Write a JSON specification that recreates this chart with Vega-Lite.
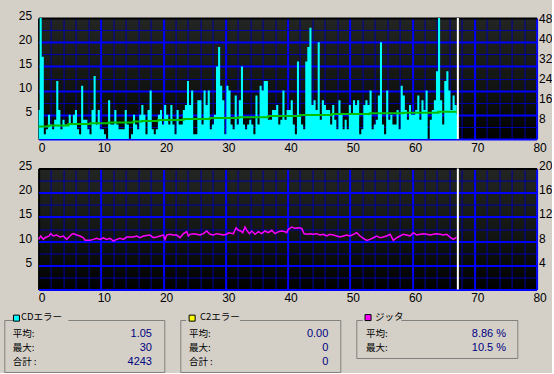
{
 "$schema": "https://vega.github.io/schema/vega-lite/v6.json",
 "background": "#d4d0c8",
 "padding": {"left": 3.3, "top": 9, "right": 0, "bottom": 0},
 "spacing": 7,
 "config": {
  "font": "Liberation Sans",
  "axis": {"labelFont": "Liberation Sans", "labelFontSize": 12, "labelColor": "#000000", "domain": false, "ticks": false, "title": null, "labelOverlap": false, "labelFlush": false}
 },
 "datasets": {
  "c1": [
   {"t":0,"c1":6},{"t":0.33,"c1":25},{"t":0.67,"c1":17},{"t":1,"c1":1},{"t":1.33,"c1":2},{"t":1.67,"c1":5},{"t":2,"c1":3},{"t":2.33,"c1":2},{"t":2.67,"c1":4},{"t":3,"c1":12},
   {"t":3.33,"c1":6},{"t":3.67,"c1":2},{"t":4,"c1":4},{"t":4.33,"c1":3},{"t":4.67,"c1":3},{"t":5,"c1":5},{"t":5.33,"c1":3},{"t":5.67,"c1":5},{"t":6,"c1":6},{"t":6.33,"c1":2},
   {"t":6.67,"c1":1},{"t":7,"c1":11},{"t":7.33,"c1":4},{"t":7.67,"c1":4},{"t":8,"c1":2},{"t":8.33,"c1":1},{"t":8.67,"c1":6},{"t":9,"c1":13},{"t":9.33,"c1":3},{"t":9.67,"c1":6},
   {"t":10,"c1":2},{"t":10.33,"c1":2},{"t":10.67,"c1":1},{"t":11,"c1":0},{"t":11.33,"c1":8},{"t":11.67,"c1":3},{"t":12,"c1":3},{"t":12.33,"c1":6},{"t":12.67,"c1":3},{"t":13,"c1":2},
   {"t":13.33,"c1":2},{"t":13.67,"c1":2},{"t":14,"c1":6},{"t":14.33,"c1":3},{"t":14.67,"c1":0},{"t":15,"c1":1},{"t":15.33,"c1":5},{"t":15.67,"c1":3},{"t":16,"c1":2},{"t":16.33,"c1":5},
   {"t":16.67,"c1":7},{"t":17,"c1":5},{"t":17.33,"c1":1},{"t":17.67,"c1":6},{"t":18,"c1":10},{"t":18.33,"c1":2},{"t":18.67,"c1":1},{"t":19,"c1":2},{"t":19.33,"c1":5},{"t":19.67,"c1":6},
   {"t":20,"c1":3},{"t":20.33,"c1":7},{"t":20.67,"c1":5},{"t":21,"c1":3},{"t":21.33,"c1":7},{"t":21.67,"c1":3},{"t":22,"c1":1},{"t":22.33,"c1":6},{"t":22.67,"c1":3},{"t":23,"c1":3},
   {"t":23.33,"c1":6},{"t":23.67,"c1":7},{"t":24,"c1":12},{"t":24.33,"c1":7},{"t":24.67,"c1":10},{"t":25,"c1":1},{"t":25.33,"c1":1},{"t":25.67,"c1":8},{"t":26,"c1":8},{"t":26.33,"c1":3},
   {"t":26.67,"c1":10},{"t":27,"c1":7},{"t":27.33,"c1":10},{"t":27.67,"c1":2},{"t":28,"c1":3},{"t":28.33,"c1":5},{"t":28.67,"c1":15},{"t":29,"c1":19},{"t":29.33,"c1":11},{"t":29.67,"c1":8},
   {"t":30,"c1":1},{"t":30.33,"c1":11},{"t":30.67,"c1":10},{"t":31,"c1":3},{"t":31.33,"c1":2},{"t":31.67,"c1":9},{"t":32,"c1":3},{"t":32.33,"c1":8},{"t":32.67,"c1":15},{"t":33,"c1":3},
   {"t":33.33,"c1":2},{"t":33.67,"c1":3},{"t":34,"c1":4},{"t":34.33,"c1":3},{"t":34.67,"c1":1},{"t":35,"c1":9},{"t":35.33,"c1":3},{"t":35.67,"c1":11},{"t":36,"c1":10},{"t":36.33,"c1":12},
   {"t":36.67,"c1":12},{"t":37,"c1":4},{"t":37.33,"c1":4},{"t":37.67,"c1":6},{"t":38,"c1":6},{"t":38.33,"c1":7},{"t":38.67,"c1":3},{"t":39,"c1":4},{"t":39.33,"c1":10},{"t":39.67,"c1":4},
   {"t":40,"c1":6},{"t":40.33,"c1":6},{"t":40.67,"c1":8},{"t":41,"c1":3},{"t":41.33,"c1":1},{"t":41.67,"c1":16},{"t":42,"c1":5},{"t":42.33,"c1":3},{"t":42.67,"c1":2},{"t":43,"c1":16},
   {"t":43.33,"c1":19},{"t":43.67,"c1":23},{"t":44,"c1":7},{"t":44.33,"c1":8},{"t":44.67,"c1":6},{"t":45,"c1":20},{"t":45.33,"c1":4},{"t":45.67,"c1":8},{"t":46,"c1":7},{"t":46.33,"c1":6},
   {"t":46.67,"c1":6},{"t":47,"c1":3},{"t":47.33,"c1":7},{"t":47.67,"c1":4},{"t":48,"c1":2},{"t":48.33,"c1":8},{"t":48.67,"c1":5},{"t":49,"c1":2},{"t":49.33,"c1":4},{"t":49.67,"c1":2},
   {"t":50,"c1":7},{"t":50.33,"c1":5},{"t":50.67,"c1":8},{"t":51,"c1":7},{"t":51.33,"c1":8},{"t":51.67,"c1":1},{"t":52,"c1":2},{"t":52.33,"c1":7},{"t":52.67,"c1":8},{"t":53,"c1":7},
   {"t":53.33,"c1":10},{"t":53.67,"c1":2},{"t":54,"c1":3},{"t":54.33,"c1":4},{"t":54.67,"c1":9},{"t":55,"c1":20},{"t":55.33,"c1":3},{"t":55.67,"c1":1},{"t":56,"c1":10},{"t":56.33,"c1":4},
   {"t":56.67,"c1":5},{"t":57,"c1":3},{"t":57.33,"c1":3},{"t":57.67,"c1":6},{"t":58,"c1":2},{"t":58.33,"c1":11},{"t":58.67,"c1":9},{"t":59,"c1":6},{"t":59.33,"c1":4},{"t":59.67,"c1":7},
   {"t":60,"c1":5},{"t":60.33,"c1":5},{"t":60.67,"c1":6},{"t":61,"c1":9},{"t":61.33,"c1":4},{"t":61.67,"c1":8},{"t":62,"c1":6},{"t":62.33,"c1":10},{"t":62.67,"c1":0},{"t":63,"c1":4},
   {"t":63.33,"c1":6},{"t":63.67,"c1":8},{"t":64,"c1":14},{"t":64.33,"c1":25},{"t":64.67,"c1":8},{"t":65,"c1":3},{"t":65.33,"c1":12},{"t":65.67,"c1":14},{"t":66,"c1":10},{"t":66.33,"c1":6},
   {"t":66.67,"c1":9},{"t":67,"c1":7},{"t":67.33,"c1":5}
  ],
  "speed": [
   {"t":0,"v":5.0},{"t":1.6,"v":5.4},{"t":4.8,"v":5.95},{"t":8.3,"v":6.25},{"t":11.2,"v":6.55},{"t":15.2,"v":6.9},{"t":16.6,"v":7.1},{"t":19.2,"v":7.5},{"t":23.3,"v":7.9},{"t":27.5,"v":8.35},
   {"t":32.1,"v":8.65},{"t":36.9,"v":9.1},{"t":42,"v":9.5},{"t":47.1,"v":9.9},{"t":53.2,"v":10.2},{"t":58.6,"v":10.45},{"t":64.2,"v":10.85},{"t":67.3,"v":10.85}
  ],
  "jitter": [
   {"t":0,"j":8.29},{"t":0.34,"j":8.84},{"t":0.77,"j":8.29},{"t":1.03,"j":8.56},{"t":1.68,"j":8.84},{"t":1.94,"j":9.23},{"t":2.37,"j":8.84},{"t":2.91,"j":9.0},{"t":3.44,"j":8.67},{"t":3.98,"j":8.84},
   {"t":4.51,"j":8.29},{"t":5.05,"j":8.84},{"t":5.32,"j":9.12},{"t":5.58,"j":9.23},{"t":6.12,"j":9.0},{"t":6.66,"j":8.84},{"t":7.19,"j":8.56},{"t":7.46,"j":8.12},{"t":8.26,"j":8.12},{"t":8.8,"j":8.29},
   {"t":9.33,"j":8.45},{"t":9.87,"j":8.29},{"t":10.4,"j":8.56},{"t":10.94,"j":8.29},{"t":11.48,"j":8.45},{"t":12.01,"j":8.01},{"t":12.55,"j":8.29},{"t":13.08,"j":8.45},{"t":13.62,"j":8.29},{"t":14.15,"j":8.67},
   {"t":15.22,"j":8.67},{"t":15.76,"j":8.84},{"t":16.3,"j":8.56},{"t":16.83,"j":8.84},{"t":17.9,"j":9.0},{"t":18.44,"j":8.56},{"t":18.97,"j":8.67},{"t":19.51,"j":8.84},{"t":20.04,"j":9.0},{"t":20.31,"j":8.29},
   {"t":20.58,"j":9.0},{"t":21.11,"j":9.12},{"t":21.65,"j":9.0},{"t":22.18,"j":9.0},{"t":22.72,"j":8.56},{"t":23.26,"j":9.23},{"t":23.79,"j":9.56},{"t":24.06,"j":8.84},{"t":24.33,"j":9.12},{"t":24.86,"j":9.23},
   {"t":25.4,"j":9.12},{"t":25.93,"j":9.0},{"t":26.47,"j":9.23},{"t":27.0,"j":9.67},{"t":27.54,"j":9.12},{"t":28.07,"j":9.0},{"t":28.61,"j":9.23},{"t":29.15,"j":9.12},{"t":29.68,"j":9.0},{"t":30.22,"j":9.12},
   {"t":30.49,"j":9.39},{"t":31.29,"j":9.23},{"t":31.72,"j":10.2},{"t":32.09,"j":9.78},{"t":32.47,"j":9.67},{"t":32.79,"j":9.39},{"t":33.16,"j":10.33},{"t":33.43,"j":9.8},{"t":33.86,"j":9.23},{"t":34.23,"j":9.67},
   {"t":34.77,"j":9.12},{"t":35.3,"j":9.56},{"t":35.84,"j":9.23},{"t":36.38,"j":9.67},{"t":36.91,"j":9.39},{"t":37.45,"j":9.78},{"t":37.98,"j":9.23},{"t":38.52,"j":9.56},{"t":39.05,"j":9.67},{"t":39.59,"j":9.56},
   {"t":39.86,"j":9.39},{"t":40.12,"j":9.94},{"t":40.66,"j":10.33},{"t":41.19,"j":10.11},{"t":41.73,"j":10.2},{"t":42.27,"j":10.11},{"t":42.64,"j":9.23},{"t":43.07,"j":9.12},{"t":43.6,"j":9.23},{"t":44.14,"j":9.12},
   {"t":44.67,"j":9.23},{"t":45.21,"j":9.0},{"t":45.75,"j":9.12},{"t":46.28,"j":8.84},{"t":46.82,"j":9.12},{"t":47.35,"j":9.0},{"t":47.89,"j":8.84},{"t":48.42,"j":8.67},{"t":48.96,"j":8.84},{"t":49.49,"j":9.0},
   {"t":50.03,"j":8.84},{"t":50.57,"j":9.12},{"t":51.1,"j":9.39},{"t":51.64,"j":8.84},{"t":52.17,"j":8.45},{"t":52.71,"j":8.12},{"t":53.24,"j":8.29},{"t":53.78,"j":8.56},{"t":54.31,"j":8.84},{"t":54.85,"j":8.56},
   {"t":55.38,"j":8.67},{"t":55.92,"j":8.84},{"t":56.46,"j":9.12},{"t":56.99,"j":8.12},{"t":57.53,"j":8.56},{"t":58.06,"j":8.84},{"t":58.6,"j":9.12},{"t":59.13,"j":9.0},{"t":59.67,"j":8.84},{"t":60.2,"j":9.39},
   {"t":60.74,"j":9.0},{"t":61.28,"j":9.12},{"t":61.81,"j":9.23},{"t":62.35,"j":9.12},{"t":62.88,"j":9.0},{"t":63.42,"j":9.12},{"t":63.95,"j":9.23},{"t":64.49,"j":9.12},{"t":65.02,"j":9.0},{"t":65.56,"j":9.12},
   {"t":66.09,"j":8.67},{"t":66.63,"j":8.29},{"t":67.17,"j":8.67}
  ],
  "end": [{"t":67.35}]
 },
 "vconcat": [
  {
   "spacing": 12.3,
   "hconcat": [
    {
     "width": 1, "height": 1,
     "view": {"stroke": null, "fill": "#d4d0c8"},
     "data": {"values": []},
     "mark": "point"
    },
    {
     "spacing": 6.5,
     "vconcat": [
      {
       "width": 498, "height": 121,
       "view": {"stroke": null, "fill": {"gradient": "linear", "x1": 0, "y1": 0, "x2": 0, "y2": 1, "stops": [{"offset": 0, "color": "#232522"}, {"offset": 0.5, "color": "#151715"}, {"offset": 0.75, "color": "#0a0c0a"}, {"offset": 1, "color": "#000000"}]}},
       "encoding": {
        "x": {"field": "t", "type": "quantitative", "scale": {"domain": [0, 80], "nice": false, "zero": false},
         "axis": {"values": [0,2,4,6,8,10,12,14,16,18,20,22,24,26,28,30,32,34,36,38,40,42,44,46,48,50,52,54,56,58,60,62,64,66,68,70,72,74,76,78,80], "grid": true, "labelOverlap": false,
          "gridColor": {"condition": [{"test": "datum.value === 0", "value": "#000000"}, {"test": "datum.value % 10 === 0", "value": "#0000ff"}], "value": "#0000a8"},
          "gridWidth": {"condition": {"test": "datum.value % 10 === 0", "value": 2}, "value": 1},
          "labelExpr": "datum.value % 10 === 0 ? datum.label : ''", "labelOffset": 3, "labelPadding": 3}}
       },
       "layer": [
        {
         "data": {"name": "c1"},
         "mark": {"type": "area", "interpolate": "step", "color": "#00ffff"},
         "encoding": {
          "y": {"field": "c1", "type": "quantitative", "scale": {"domain": [0, 25], "nice": false},
           "axis": {"orient": "left", "values": [0,2.5,5,7.5,10,12.5,15,17.5,20,22.5,25], "grid": true, "labelOverlap": false,
            "gridColor": {"condition": [{"test": "datum.value === 25", "value": "#000000"}, {"test": "datum.value % 5 === 0", "value": "#0000ff"}], "value": "#0000a8"},
            "gridWidth": {"condition": {"test": "datum.value % 5 === 0", "value": 2}, "value": 1},
            "labelExpr": "datum.value % 5 === 0 && datum.value > 0 ? datum.label : ''", "labelOffset": -3, "labelPadding": 7}}
         }
        },
        {
         "data": {"name": "speed"},
         "mark": {"type": "line", "interpolate": "step-after", "color": "#00c000", "strokeWidth": 2},
         "encoding": {
          "y": {"field": "v", "type": "quantitative", "scale": {"domain": [0, 48], "nice": false},
           "axis": {"orient": "right", "values": [8,16,24,32,40,48], "grid": false, "labelPadding": 2, "labelOverlap": false}}
         }
        },
        {
         "data": {"name": "end"},
         "mark": {"type": "rule", "color": "#ffffff", "strokeWidth": 2},
         "encoding": {}
        }
       ],
       "resolve": {"scale": {"y": "independent"}}
      },
      {
       "width": 498, "height": 121,
       "view": {"stroke": null, "fill": {"gradient": "linear", "x1": 0, "y1": 0, "x2": 0, "y2": 1, "stops": [{"offset": 0, "color": "#232522"}, {"offset": 0.5, "color": "#151715"}, {"offset": 0.75, "color": "#0a0c0a"}, {"offset": 1, "color": "#000000"}]}},
       "encoding": {
        "x": {"field": "t", "type": "quantitative", "scale": {"domain": [0, 80], "nice": false, "zero": false},
         "axis": {"values": [0,2,4,6,8,10,12,14,16,18,20,22,24,26,28,30,32,34,36,38,40,42,44,46,48,50,52,54,56,58,60,62,64,66,68,70,72,74,76,78,80], "grid": true, "labelOverlap": false,
          "gridColor": {"condition": [{"test": "datum.value === 0", "value": "#000000"}, {"test": "datum.value % 10 === 0", "value": "#0000ff"}], "value": "#0000a8"},
          "gridWidth": {"condition": {"test": "datum.value % 10 === 0", "value": 2}, "value": 1},
          "labelExpr": "datum.value % 10 === 0 ? datum.label : ''", "labelOffset": 3, "labelPadding": 3}}
       },
       "layer": [
        {
         "data": {"name": "end"},
         "mark": {"type": "rule", "color": "#ffffff", "strokeWidth": 2},
         "encoding": {
          "y": {"datum": 0, "type": "quantitative", "scale": {"domain": [0, 25], "nice": false},
           "axis": {"orient": "left", "values": [0,2.5,5,7.5,10,12.5,15,17.5,20,22.5,25], "grid": true, "labelOverlap": false,
            "gridColor": {"condition": [{"test": "datum.value === 25", "value": "#000000"}, {"test": "datum.value % 5 === 0", "value": "#0000ff"}], "value": "#0000a8"},
            "gridWidth": {"condition": {"test": "datum.value % 5 === 0", "value": 2}, "value": 1},
            "labelExpr": "datum.value % 5 === 0 && datum.value > 0 ? datum.label : ''", "labelOffset": -3, "labelPadding": 7}},
          "y2": {"datum": 25}
         }
        },
        {
         "data": {"name": "jitter"},
         "mark": {"type": "line", "color": "#ff00ff", "strokeWidth": 1.5},
         "encoding": {
          "y": {"field": "j", "type": "quantitative", "scale": {"domain": [0, 20], "nice": false},
           "axis": {"orient": "right", "values": [4,8,12,16,20], "grid": false, "labelPadding": 2, "labelOffset": -3, "labelOverlap": false}}
         }
        }
       ],
       "resolve": {"scale": {"y": "independent"}}
      }
     ]
    }
   ]
  },
  {
   "spacing": 14,
   "hconcat": [
    {
     "width": 160, "height": 52,
     "view": {"stroke": "#808080", "fill": null},
     "data": {"values": [
      {"row": 0, "label": "CDエラー", "value": ""},
      {"row": 1, "label": "平均:", "value": "1.05"},
      {"row": 2, "label": "最大:", "value": "30"},
      {"row": 3, "label": "合計 :", "value": "4243"}
     ]},
     "encoding": {
      "y": {"field": "row", "type": "quantitative", "scale": {"domain": [-0.01, 3.74], "reverse": true, "nice": false, "zero": false}, "axis": null}
     },
     "layer": [
      {"transform": [{"filter": "datum.row === 0"}], "mark": {"type": "rule", "color": "#d4d0c8", "strokeWidth": 4},
       "encoding": {"x": {"datum": 0.058, "type": "quantitative", "scale": {"domain": [0, 1], "nice": false}, "axis": null}, "x2": {"datum": 0.4}}},
      {"transform": [{"filter": "datum.row === 0"}], "mark": {"type": "point", "shape": "square", "size": 36, "filled": true, "fill": "#00ffff", "stroke": "#000000", "strokeWidth": 1, "opacity": 1, "yOffset": -2},
       "encoding": {"x": {"datum": 0.076, "type": "quantitative"}}},
      {"transform": [{"filter": "datum.row === 0"}], "mark": {"type": "text", "align": "left", "baseline": "middle", "dy": -3, "font": "Noto Sans CJK JP", "fontSize": 9.5, "color": "#000000"},
       "encoding": {"x": {"datum": 0.104, "type": "quantitative"}, "text": {"field": "label"}}},
      {"transform": [{"filter": "datum.row > 0"}], "mark": {"type": "text", "align": "left", "baseline": "middle", "font": "Noto Sans CJK JP", "fontSize": 9.5, "color": "#000000"},
       "encoding": {"x": {"datum": 0.053, "type": "quantitative"}, "text": {"field": "label"}}},
      {"transform": [{"filter": "datum.row > 0"}], "mark": {"type": "text", "align": "right", "baseline": "middle", "font": "Liberation Sans", "fontSize": 11, "color": "#000080"},
       "encoding": {"x": {"datum": 0.923, "type": "quantitative"}, "text": {"field": "value"}}}
     ]
    },
    {
     "width": 160, "height": 52,
     "view": {"stroke": "#808080", "fill": null},
     "data": {"values": [
      {"row": 0, "label": "C2エラー", "value": ""},
      {"row": 1, "label": "平均:", "value": "0.00"},
      {"row": 2, "label": "最大:", "value": "0"},
      {"row": 3, "label": "合計 :", "value": "0"}
     ]},
     "encoding": {
      "y": {"field": "row", "type": "quantitative", "scale": {"domain": [-0.01, 3.74], "reverse": true, "nice": false, "zero": false}, "axis": null}
     },
     "layer": [
      {"transform": [{"filter": "datum.row === 0"}], "mark": {"type": "rule", "color": "#d4d0c8", "strokeWidth": 4},
       "encoding": {"x": {"datum": 0.036, "type": "quantitative", "scale": {"domain": [0, 1], "nice": false}, "axis": null}, "x2": {"datum": 0.373}}},
      {"transform": [{"filter": "datum.row === 0"}], "mark": {"type": "point", "shape": "square", "size": 36, "filled": true, "fill": "#ffff00", "stroke": "#000000", "strokeWidth": 1, "opacity": 1, "yOffset": -2},
       "encoding": {"x": {"datum": 0.074, "type": "quantitative"}}},
      {"transform": [{"filter": "datum.row === 0"}], "mark": {"type": "text", "align": "left", "baseline": "middle", "dy": -3, "font": "Noto Sans CJK JP", "fontSize": 9.5, "color": "#000000"},
       "encoding": {"x": {"datum": 0.123, "type": "quantitative"}, "text": {"field": "label"}}},
      {"transform": [{"filter": "datum.row > 0"}], "mark": {"type": "text", "align": "left", "baseline": "middle", "font": "Noto Sans CJK JP", "fontSize": 9.5, "color": "#000000"},
       "encoding": {"x": {"datum": 0.054, "type": "quantitative"}, "text": {"field": "label"}}},
      {"transform": [{"filter": "datum.row > 0"}], "mark": {"type": "text", "align": "right", "baseline": "middle", "font": "Liberation Sans", "fontSize": 11, "color": "#000080"},
       "encoding": {"x": {"datum": 0.925, "type": "quantitative"}, "text": {"field": "value"}}}
     ]
    },
    {
     "width": 161, "height": 38,
     "view": {"stroke": "#808080", "fill": null},
     "data": {"values": [
      {"row": 0, "label": "ジッタ", "value": ""},
      {"row": 1, "label": "平均:", "value": "8.86 %"},
      {"row": 2, "label": "最大:", "value": "10.5 %"}
     ]},
     "encoding": {
      "y": {"field": "row", "type": "quantitative", "scale": {"domain": [0.03, 2.67], "reverse": true, "nice": false, "zero": false}, "axis": null}
     },
     "layer": [
      {"transform": [{"filter": "datum.row === 0"}], "mark": {"type": "rule", "color": "#d4d0c8", "strokeWidth": 4},
       "encoding": {"x": {"datum": 0.04, "type": "quantitative", "scale": {"domain": [0, 1], "nice": false}, "axis": null}, "x2": {"datum": 0.28}}},
      {"transform": [{"filter": "datum.row === 0"}], "mark": {"type": "point", "shape": "square", "size": 36, "filled": true, "fill": "#ff00ff", "stroke": "#000000", "strokeWidth": 1, "opacity": 1, "yOffset": -2},
       "encoding": {"x": {"datum": 0.073, "type": "quantitative"}}},
      {"transform": [{"filter": "datum.row === 0"}], "mark": {"type": "text", "align": "left", "baseline": "middle", "dy": -3, "font": "Noto Sans CJK JP", "fontSize": 9.5, "color": "#000000"},
       "encoding": {"x": {"datum": 0.116, "type": "quantitative"}, "text": {"field": "label"}}},
      {"transform": [{"filter": "datum.row > 0"}], "mark": {"type": "text", "align": "left", "baseline": "middle", "font": "Noto Sans CJK JP", "fontSize": 9.5, "color": "#000000"},
       "encoding": {"x": {"datum": 0.06, "type": "quantitative"}, "text": {"field": "label"}}},
      {"transform": [{"filter": "datum.row > 0"}], "mark": {"type": "text", "align": "right", "baseline": "middle", "font": "Liberation Sans", "fontSize": 11, "color": "#000080"},
       "encoding": {"x": {"datum": 0.93, "type": "quantitative"}, "text": {"field": "value"}}}
     ]
    }
   ]
  }
 ]
}
